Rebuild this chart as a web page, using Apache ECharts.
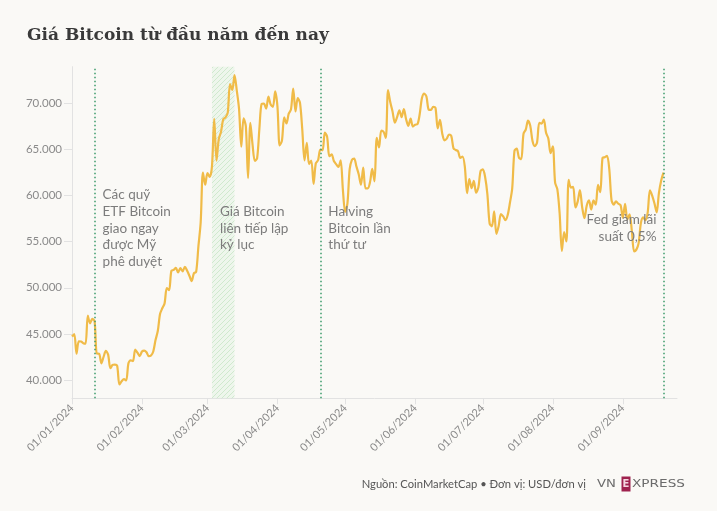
<!DOCTYPE html>
<html>
<head>
<meta charset="utf-8">
<script src="https://cdn.jsdelivr.net/npm/echarts@6/dist/echarts.min.js"></script>
<style>
  html, body { margin: 0; padding: 0; background: #faf9f6; }
  #chart { width: 717px; height: 511px; }
</style>
</head>
<body>
<div id="chart"></div>
<script>
// ---- Data (daily BTC price, USD) ----
const startDate = [2024, 0, 1];
const jan = [44700, 44957, 42848, 44179, 44162, 43989, 43943, 46970, 46139, 46627, 46368, 42853, 42842, 41796, 42511, 43154, 42742, 41262, 41618, 41665, 41545, 39507, 39846, 40077, 39934, 41816, 42120, 42036, 43300, 42946, 42582];
const feb = [43075, 43185, 42992, 42583, 42658, 43084, 44318, 45301, 47147, 47771, 48293, 49958, 49742, 51826, 51938, 52160, 51663, 52122, 51779, 52284, 51839, 51304, 50731, 51571, 51733, 54522, 57085, 62504, 61198];
const mar = [62440, 62029, 63168, 68330, 63801, 66106, 66925, 68300, 68498, 69019, 72123, 71481, 73083, 71396, 69403, 65316, 68390, 67548, 61912, 67913, 65491, 63779, 64062, 67234, 69958, 69988, 69455, 70744, 69892, 69645, 71333];
const apr = [69702, 65446, 65981, 68509, 67837, 68897, 69362, 71632, 69139, 70587, 70060, 67195, 63821, 65738, 63427, 63811, 61276, 63512, 63843, 64994, 64926, 66837, 66408, 64276, 64481, 63755, 63419, 63113, 63841, 60636];
const may = [58254, 59123, 62889, 63891, 64031, 63161, 62334, 61187, 63049, 60793, 60794, 61448, 62901, 61552, 66267, 65231, 67051, 66940, 66278, 71448, 70137, 69122, 67929, 68527, 69265, 68518, 69395, 68297, 67579, 68365, 67491];
const jun = [67707, 67751, 68805, 70568, 71082, 70757, 69343, 69305, 69648, 69540, 67315, 68242, 66757, 66012, 66191, 66639, 66490, 65140, 64960, 64829, 64096, 64252, 63180, 60277, 61804, 60811, 61604, 60320, 60887, 62678];
const jul = [62851, 62029, 60173, 56977, 56662, 58303, 55849, 56705, 58009, 57742, 57344, 57899, 59231, 60788, 64870, 65097, 64118, 63974, 66710, 67164, 68154, 67586, 65927, 65372, 65777, 67913, 67813, 68255, 66819, 66201, 64620];
const aug = [65357, 61415, 60681, 58116, 53991, 56034, 55027, 61710, 60880, 60945, 58719, 59354, 60609, 58737, 57560, 58894, 59478, 58483, 59493, 59013, 61175, 60381, 64094, 64178, 64333, 62880, 59504, 59027, 59388, 59119, 58969];
const sep = [57600, 59112, 57431, 57971, 56160, 53948, 54140, 54841, 57019, 57648, 57343, 58127, 60571, 60005, 59182, 58192, 60309, 61649, 62500];

const xTickLabels = ['01/01/2024', '01/02/2024', '01/03/2024', '01/04/2024', '01/05/2024', '01/06/2024', '01/07/2024', '01/08/2024', '01/09/2024'];
const yTickValues = [40000, 45000, 50000, 55000, 60000, 65000, 70000];
const axisRange = { xMin: '01/01/2024', xMax: '25/09/2024', yMin: 38000, yMax: 74000 };

const eventDates = ['11/01/2024', '20/04/2024', '19/09/2024'];
const recordBand = ['03/03/2024', '13/03/2024'];
const notes = [
  { date: '11/01/2024', text: 'Các quỹ\nETF Bitcoin\ngiao ngay\nđược Mỹ\nphê duyệt', align: 'left', top: 186.7 },
  { date: '03/03/2024', text: 'Giá Bitcoin\nliên tiếp lập\nkỷ lục', align: 'left', top: 203.4 },
  { date: '20/04/2024', text: 'Halving\nBitcoin lần\nthứ tư', align: 'left', top: 203.4 },
  { date: '19/09/2024', text: 'Fed giảm lãi\nsuất 0,5%', align: 'right', top: 211.6 }
];
const titleText = 'Giá Bitcoin từ đầu năm đến nay';
const sourceText = 'Nguồn: CoinMarketCap • Đơn vị: USD/đơn vị';

// ---- Helpers ----
function dmy(s) { const p = s.split('/').map(Number); return new Date(p[2], p[1] - 1, p[0]).getTime(); }
function pad(n) { return (n < 10 ? '0' : '') + n; }
function fmtThousands(v) { return String(v).replace(/\B(?=(\d{3})+(?!\d))/g, '.'); }

const prices = [].concat(jan, feb, mar, apr, may, jun, jul, aug, sep);
const seriesData = prices.map((v, i) => [new Date(startDate[0], startDate[1], startDate[2] + i).getTime(), v]);

// hatch pattern for record band
const pc = document.createElement('canvas');
pc.width = 5; pc.height = 5;
const pctx = pc.getContext('2d');
pctx.fillStyle = 'rgba(225,242,225,0.45)';
pctx.fillRect(0, 0, 5, 5);
pctx.strokeStyle = 'rgba(170,218,170,0.45)';
pctx.lineWidth = 1;
pctx.beginPath();
pctx.moveTo(0, 5); pctx.lineTo(5, 0);
pctx.moveTo(-1, 1); pctx.lineTo(1, -1);
pctx.moveTo(4, 6); pctx.lineTo(6, 4);
pctx.stroke();

const chart = echarts.init(document.getElementById('chart'), null, { renderer: 'canvas' });
const baseFont = 'Lato, "Noto Sans", sans-serif';

chart.setOption({
  backgroundColor: '#faf9f6',
  animation: false,
  grid: { left: 72, right: 40, top: 66.7, bottom: 112.7, containLabel: false },
  xAxis: {
    type: 'value',
    min: dmy(axisRange.xMin),
    max: dmy(axisRange.xMax),
    axisLine: { show: true, lineStyle: { color: '#e2e2e2', width: 1 } },
    axisTick: { show: true, length: 6, lineStyle: { color: '#e2e2e2' }, customValues: xTickLabels.map(dmy) },
    splitLine: { show: false },
    axisLabel: {
      customValues: xTickLabels.map(dmy),
      rotate: 45,
      margin: 8,
      color: '#8a8a8a',
      fontSize: 11,
      fontFamily: baseFont,
      formatter: function (v) { const d = new Date(v); return pad(d.getDate()) + '/' + pad(d.getMonth() + 1) + '/' + d.getFullYear(); }
    }
  },
  yAxis: {
    type: 'value',
    min: axisRange.yMin,
    max: axisRange.yMax,
    axisLine: { show: true, lineStyle: { color: '#e2e2e2', width: 1 } },
    axisTick: { show: true, length: 8, lineStyle: { color: '#e2e2e2' }, customValues: yTickValues },
    splitLine: { show: false },
    axisLabel: {
      customValues: yTickValues,
      margin: 10,
      color: '#8a8a8a',
      fontSize: 11.5,
      fontFamily: baseFont,
      formatter: fmtThousands
    }
  },
  series: [{
    type: 'line',
    data: seriesData,
    showSymbol: false,
    smooth: 0.3,
    lineStyle: { color: '#f0bb48', width: 2.2 },
    itemStyle: { color: '#f0bb48' },
    markArea: {
      silent: true,
      itemStyle: { color: { image: pc, repeat: 'repeat' } },
      data: [[{ xAxis: dmy(recordBand[0]) }, { xAxis: dmy(recordBand[1]) }]]
    },
    markLine: {
      silent: true,
      symbol: ['none', 'none'],
      label: { show: false },
      lineStyle: { color: '#3b9a6b', type: [1.5, 2.5], width: 1.5 },
      data: eventDates.map(d => ({ xAxis: dmy(d) }))
    },
    z: 3
  }]
});

function buildGraphics() {
  const g = [];
  g.push({
    type: 'text', left: 27, top: 27,
    style: { text: titleText, font: 'bold 17px "DejaVu Serif", serif', fill: '#3a3a3a' }
  });
  notes.forEach(n => {
    const px = chart.convertToPixel({ xAxisIndex: 0 }, dmy(n.date));
    const x = n.align === 'left' ? px + 8 : px - 7;
    g.push({
      type: 'text', x: x, y: n.top, z: 10,
      style: {
        text: n.text, font: '13.5px ' + baseFont, fill: '#7c7c7c',
        align: n.align, verticalAlign: 'top', lineHeight: 16.6
      }
    });
  });
  g.push({
    type: 'text', x: 586, y: 484,
    style: { text: sourceText, font: '11.2px ' + baseFont, fill: '#555', align: 'right', verticalAlign: 'middle' }
  });
  // VnExpress logo
  g.push({ type: 'text', x: 597, y: 484, scaleX: 1.2, originX: 0, originY: 0, style: { text: 'VN', font: '11px "DejaVu Sans", sans-serif', fill: '#6b6b6b', align: 'left', verticalAlign: 'middle' } });
  g.push({ type: 'rect', shape: { x: 621.5, y: 476.5, width: 9, height: 15 }, style: { fill: '#9f224e' } });
  g.push({ type: 'text', x: 626, y: 484, style: { text: 'E', font: 'bold 10px "DejaVu Sans", sans-serif', fill: '#f4d6e0', align: 'center', verticalAlign: 'middle' } });
  g.push({ type: 'text', x: 632, y: 484, scaleX: 1.24, originX: 0, originY: 0, style: { text: 'XPRESS', font: '11px "DejaVu Sans", sans-serif', fill: '#6b6b6b', align: 'left', verticalAlign: 'middle' } });
  chart.setOption({ graphic: g });
}
buildGraphics();
</script>
</body>
</html>
